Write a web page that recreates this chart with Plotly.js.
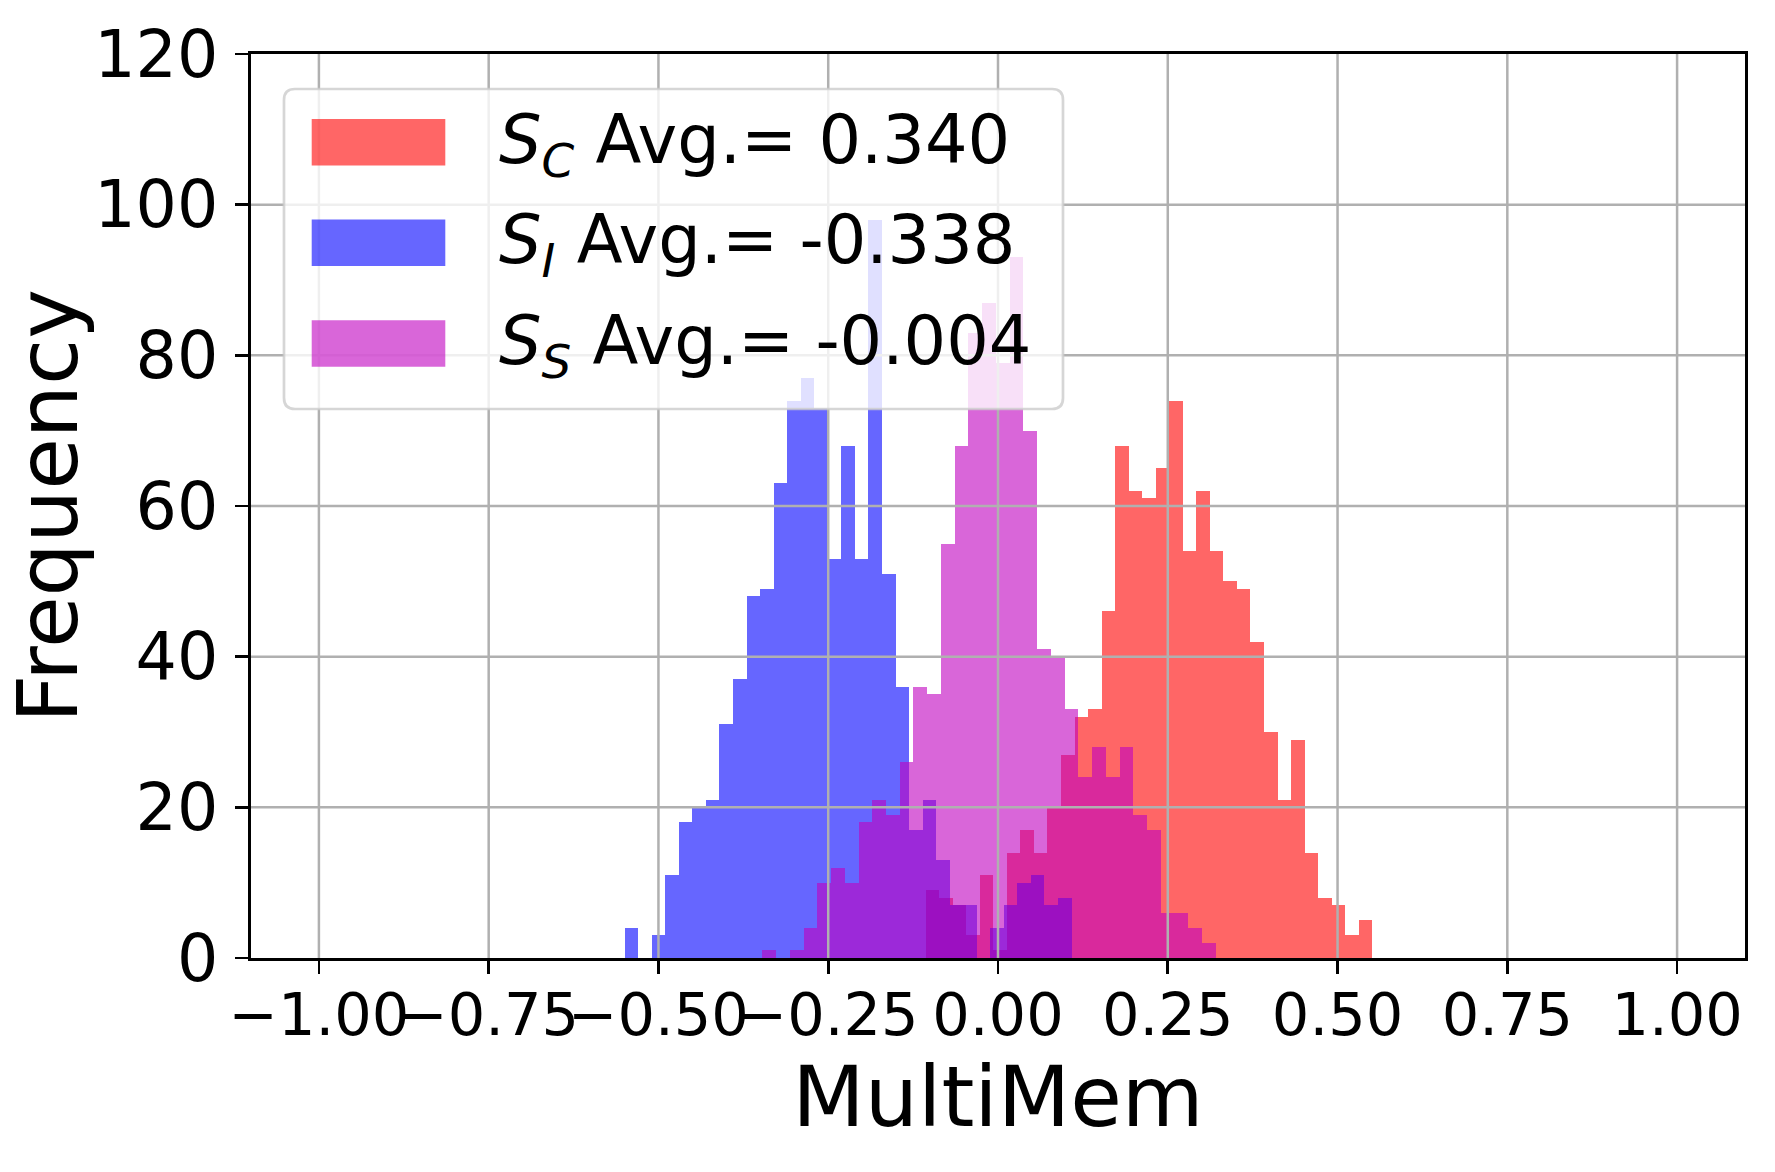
<!DOCTYPE html>
<html>
<head>
<meta charset="utf-8">
<script src="https://cdn.plot.ly/plotly-3.0.1.min.js"></script>
<style>
  html, body { margin: 0; padding: 0; background: #ffffff; }
  #chart { width: 1775px; height: 1172px; }
</style>
</head>
<body>
<div id="chart"></div>
<script>
// Histogram counts of MultiMem scores: each series uses 33 equal-width bins
// spanning its own [min, max] range.
const legendLabels = [
  '<i>S</i><sub><i>C</i></sub> Avg.= 0.340',
  '<i>S</i><sub><i>I</i></sub> Avg.= -0.338',
  '<i>S</i><sub><i>S</i></sub> Avg.= -0.004'
];
const scRange = [-0.1065, 0.5511];
const siRange = [-0.5497, 0.1083];
const ssRange = [-0.3471, 0.3208];
const scCounts = [9, 8, 7, 3, 11, 1, 14, 17, 14, 20, 27, 32, 33, 46, 68, 62, 61, 65, 74, 54, 62, 54, 50, 49, 42, 30, 21, 29, 14, 8, 7, 3, 5];
const siCounts = [4, 0, 3, 11, 18, 20, 21, 31, 37, 48, 49, 63, 74, 77, 73, 53, 68, 53, 98, 51, 36, 17, 21, 13, 7, 7, 0, 4, 7, 10, 11, 7, 8];
const ssCounts = [1, 0, 1, 4, 10, 12, 10, 18, 21, 19, 26, 36, 35, 55, 68, 83, 87, 79, 93, 70, 41, 40, 33, 24, 28, 24, 28, 19, 17, 6, 6, 4, 2];
const xTicks = [-1, -0.75, -0.5, -0.25, 0, 0.25, 0.5, 0.75, 1];
const yTicks = [0, 20, 40, 60, 80, 100, 120];
const xTitle = 'MultiMem';
const yTitle = 'Frequency';

// Series colours (red, blue, magenta at 60% opacity)
const seriesColors = ['rgba(255,0,0,0.6)', 'rgba(0,0,255,0.6)', 'rgba(191,0,191,0.6)'];

const FONT = 'DejaVu Sans, Liberation Sans, sans-serif';
const W = 1775, H = 1172;
const M = { l: 251, r: 30, t: 54, b: 214 };
const plotW = W - M.l - M.r;
const plotH = H - M.t - M.b;

function binTrace(range, counts, color) {
  const w = (range[1] - range[0]) / counts.length;
  return {
    type: 'bar',
    x: counts.map((_, i) => range[0] + (i + 0.5) * w),
    y: counts,
    width: w,
    marker: { color: color, line: { width: 0 } },
    showlegend: false,
    hoverinfo: 'x+y'
  };
}

const traces = [
  binTrace(scRange, scCounts, seriesColors[0]),
  binTrace(siRange, siCounts, seriesColors[1]),
  binTrace(ssRange, ssCounts, seriesColors[2])
];

// pixel -> paper helpers for the legend overlay
const px = v => (v - M.l) / plotW;
const py = v => (H - M.b - v) / plotH;

const shapes = [];
// grid drawn over the bars
xTicks.forEach(t => shapes.push({
  type: 'line', xref: 'x', yref: 'paper', x0: t, x1: t, y0: 0, y1: 1,
  line: { color: '#b0b0b0', width: 2.5 }, layer: 'above'
}));
yTicks.filter(t => t > 0 && t < 120).forEach(t => shapes.push({
  type: 'line', xref: 'paper', yref: 'y', x0: 0, x1: 1, y0: t, y1: t,
  line: { color: '#b0b0b0', width: 2.5 }, layer: 'above'
}));

// legend frame with rounded corners
const box = { l: 284, t: 89, r: 1063, b: 409, rad: 11 };
const bx0 = px(box.l), bx1 = px(box.r), by0 = py(box.b), by1 = py(box.t);
const rx = box.rad / plotW, ry = box.rad / plotH;
shapes.push({
  type: 'path', xref: 'paper', yref: 'paper', layer: 'above',
  path: `M ${bx0 + rx},${by1} L ${bx1 - rx},${by1} Q ${bx1},${by1} ${bx1},${by1 - ry} ` +
        `L ${bx1},${by0 + ry} Q ${bx1},${by0} ${bx1 - rx},${by0} L ${bx0 + rx},${by0} ` +
        `Q ${bx0},${by0} ${bx0},${by0 + ry} L ${bx0},${by1 - ry} Q ${bx0},${by1} ${bx0 + rx},${by1} Z`,
  fillcolor: 'rgba(255,255,255,0.8)',
  line: { color: 'rgba(204,204,204,0.8)', width: 2.7 }
});

const rowCenters = [142.3, 242.8, 343.5];
const annotations = [];
rowCenters.forEach((cy, i) => {
  shapes.push({
    type: 'rect', xref: 'paper', yref: 'paper', layer: 'above',
    x0: px(311.7), x1: px(445.3), y0: py(cy + 23.3), y1: py(cy - 23.3),
    fillcolor: seriesColors[i], line: { width: 0 }
  });
  annotations.push({
    xref: 'paper', yref: 'paper', x: px(497), y: py(cy + 2),
    xanchor: 'left', yanchor: 'middle', showarrow: false,
    text: legendLabels[i],
    font: { family: FONT, size: 67, color: '#000000' }
  });
});

// vertical axis title, placed close to the page edge
annotations.push({
  xref: 'paper', yref: 'paper', x: px(48), y: 0.5,
  xanchor: 'center', yanchor: 'middle', showarrow: false,
  textangle: -90, text: yTitle,
  font: { family: FONT, size: 84, color: '#000000' }
});

const axisCommon = {
  showgrid: false, zeroline: false,
  showline: true, linecolor: '#000000', linewidth: 2.7, mirror: true,
  ticks: 'outside', ticklen: 13, tickwidth: 2.7, tickcolor: '#000000',
  layer: 'above traces'
};

const layout = {
  width: W, height: H,
  margin: M,
  paper_bgcolor: '#ffffff', plot_bgcolor: '#ffffff',
  barmode: 'overlay', bargap: 0,
  font: { family: FONT, color: '#000000' },
  xaxis: Object.assign({}, axisCommon, {
    range: [-1.1, 1.1], tickvals: xTicks, tickformat: '.2f',
    tickangle: 0, ticklabeloverflow: 'allow',
    ticklabelstandoff: -10,
    tickfont: { family: FONT, size: 59, color: '#000000' },
    title: { text: xTitle, font: { family: FONT, size: 84 }, standoff: 18 }
  }),
  yaxis: Object.assign({}, axisCommon, {
    range: [0, 120], tickvals: yTicks,
    ticklabelstandoff: 4,
    tickfont: { family: FONT, size: 65, color: '#000000' }
  }),
  shapes: shapes,
  annotations: annotations,
  showlegend: false
};

Plotly.newPlot('chart', traces, layout, { displayModeBar: false, staticPlot: true });
</script>
</body>
</html>
